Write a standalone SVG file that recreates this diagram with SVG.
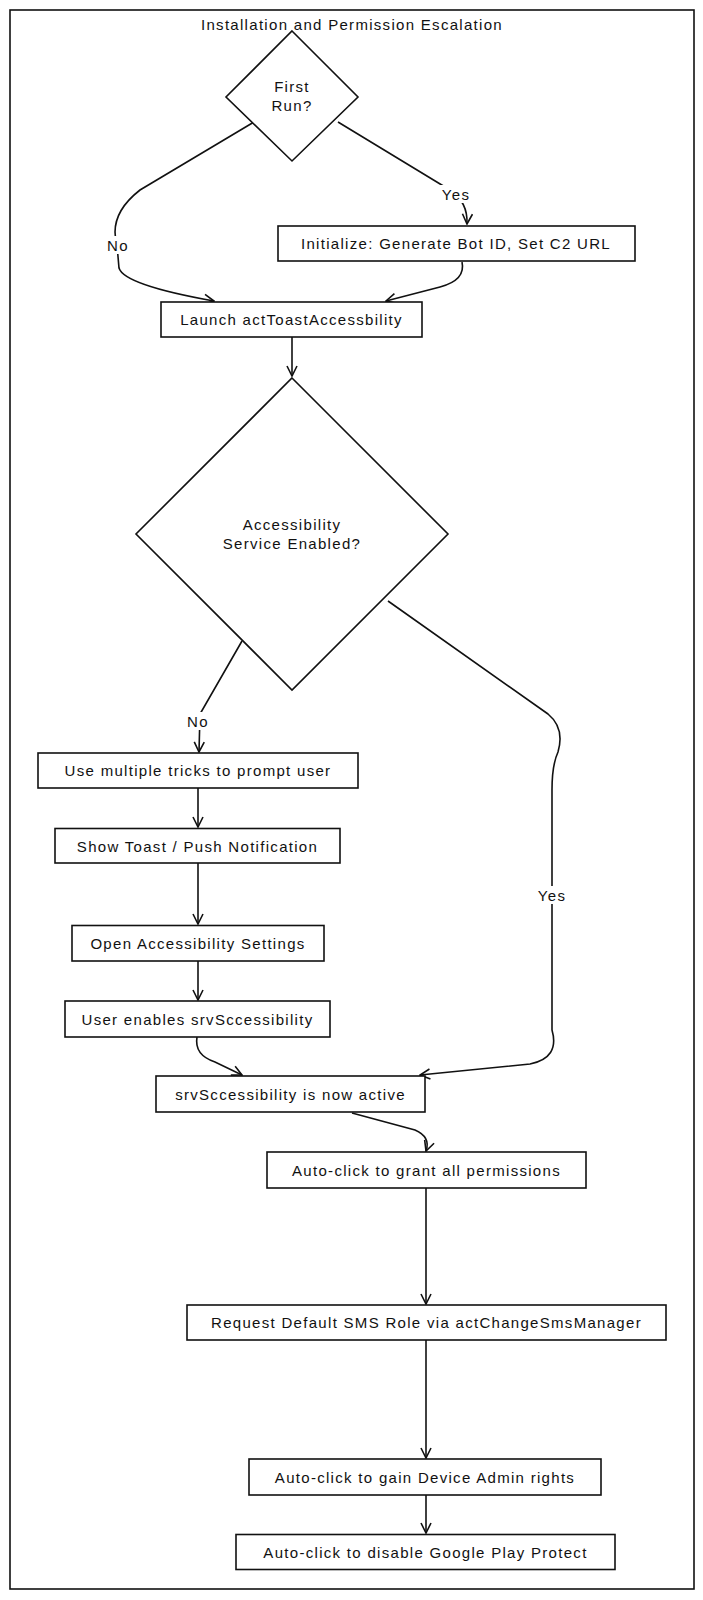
<svg xmlns="http://www.w3.org/2000/svg" width="703" height="1600" viewBox="0 0 703 1600">
<style>
text{font-family:"Liberation Sans",Arial,sans-serif;font-size:15px;letter-spacing:1.3px;fill:#111;text-anchor:middle;dominant-baseline:central}
.n{fill:#fff;stroke:#111;stroke-width:1.6}
.e{fill:none;stroke:#111;stroke-width:1.6}
.lb{fill:#fff}
</style>
<defs>
<marker id="a" viewBox="0 0 12 12" refX="11" refY="6" markerWidth="12" markerHeight="12" markerUnits="userSpaceOnUse" orient="auto">
<path d="M1,1 L11,6 L1,11" fill="none" stroke="#111" stroke-width="1.6"/>
</marker>
</defs>
<rect x="0" y="0" width="703" height="1600" fill="#fff"/>
<g id="frame">
<rect x="10" y="10" width="684" height="1579" fill="none" stroke="#111" stroke-width="1.6"/>
<text x="352" y="24">Installation and Permission Escalation</text>
</g>
<g id="edges">
<path class="e" d="M338,122 L450,190 Q468,202 467,224" marker-end="url(#a)"/>
<path class="e" d="M254,122 L140,190 Q108,215 117,245 L119,268 Q124,285 214,301" marker-end="url(#a)"/>
<path class="e" d="M462,262 Q466,280 440,287 L386,301" marker-end="url(#a)"/>
<path class="e" d="M292,337 L292,376" marker-end="url(#a)"/>
<path class="e" d="M242,641 L200,714 L199,752" marker-end="url(#a)"/>
<path class="e" d="M198,788 L198,827" marker-end="url(#a)"/>
<path class="e" d="M198,863 L198,924" marker-end="url(#a)"/>
<path class="e" d="M198,961 L198,1000" marker-end="url(#a)"/>
<path class="e" d="M197,1037 Q194,1055 215,1062 L242,1075" marker-end="url(#a)"/>
<path class="e" d="M388,601 L548,714 Q565,728 558,752 Q552,765 552,790 L552,1030 Q560,1058 530,1064 L420,1075" marker-end="url(#a)"/>
<path class="e" d="M352,1113 L415,1130 Q431,1137 426,1151" marker-end="url(#a)"/>
<path class="e" d="M426,1188 L426,1304" marker-end="url(#a)"/>
<path class="e" d="M426,1340 L426,1458" marker-end="url(#a)"/>
<path class="e" d="M426,1495 L426,1533" marker-end="url(#a)"/>
<rect class="lb" x="440" y="185" width="32" height="18"/>
<text x="456" y="194">Yes</text>
<rect class="lb" x="105" y="236" width="26" height="18"/>
<text x="118" y="245">No</text>
<rect class="lb" x="187" y="712" width="24" height="18"/>
<text x="198" y="721">No</text>
<rect class="lb" x="536" y="886" width="32" height="18"/>
<text x="552" y="895">Yes</text>
</g>
<g id="firstRun">
<polygon class="n" points="292,31 358,97 292,161 226,97"/>
<text x="292" y="86">First</text>
<text x="292" y="105">Run?</text>
</g>
<g id="init">
<rect class="n" x="278" y="226" width="357" height="35"/>
<text x="456" y="243.5">Initialize: Generate Bot ID, Set C2 URL</text>
</g>
<g id="launch">
<rect class="n" x="161" y="302" width="261" height="35"/>
<text x="291.5" y="319.5">Launch actToastAccessbility</text>
</g>
<g id="accEnabled">
<polygon class="n" points="292,378 448,534 292,690 136,534"/>
<text x="292" y="524">Accessibility</text>
<text x="292" y="543">Service Enabled?</text>
</g>
<g id="tricks">
<rect class="n" x="38" y="753" width="320" height="35"/>
<text x="198" y="770.5">Use multiple tricks to prompt user</text>
</g>
<g id="toast">
<rect class="n" x="55" y="828.5" width="285" height="34.5"/>
<text x="197.5" y="846">Show Toast / Push Notification</text>
</g>
<g id="openSettings">
<rect class="n" x="72" y="925.5" width="252" height="35.5"/>
<text x="198" y="943">Open Accessibility Settings</text>
</g>
<g id="userEnables">
<rect class="n" x="65" y="1001" width="265" height="36"/>
<text x="197.5" y="1019">User enables srvSccessibility</text>
</g>
<g id="active">
<rect class="n" x="156" y="1076" width="269" height="36"/>
<text x="290.5" y="1094">srvSccessibility is now active</text>
</g>
<g id="grant">
<rect class="n" x="267" y="1152" width="319" height="36"/>
<text x="426.5" y="1170">Auto-click to grant all permissions</text>
</g>
<g id="sms">
<rect class="n" x="187" y="1305" width="479" height="35"/>
<text x="426.5" y="1322.5">Request Default SMS Role via actChangeSmsManager</text>
</g>
<g id="admin">
<rect class="n" x="249" y="1459" width="352" height="36"/>
<text x="425" y="1477">Auto-click to gain Device Admin rights</text>
</g>
<g id="playProtect">
<rect class="n" x="236" y="1534.5" width="379" height="35"/>
<text x="425.5" y="1552">Auto-click to disable Google Play Protect</text>
</g>
</svg>
